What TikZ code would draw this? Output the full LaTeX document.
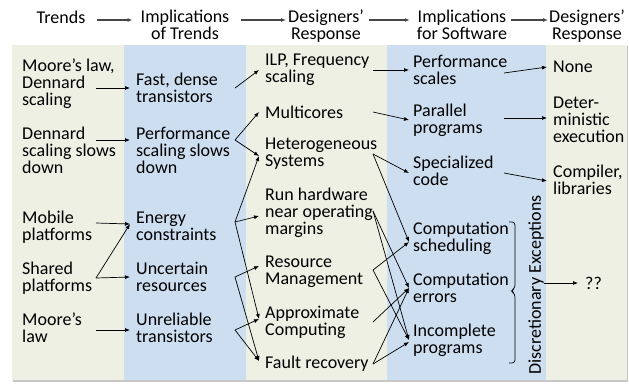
\documentclass[tikz,border=0pt]{standalone}
\usepackage{fontspec}
\setmainfont{Carlito}
\usetikzlibrary{arrows.meta,positioning,calc}
\definecolor{mlbeige}{RGB}{238,240,228}
\definecolor{mlblue}{RGB}{205,222,241}
\definecolor{mlhead}{RGB}{70,70,70}
\newcommand\fsz{\fontsize{18}{17}\selectfont}

\begin{document}
\begin{tikzpicture}[x=1pt,y=-1pt,>={Latex[length=5pt,width=4pt]},
  txt/.style={anchor=west,align=left,inner sep=0pt,font=\fsz},
  head/.style={align=center,inner sep=0pt,font=\fsz},
  arr/.style={->,line width=0.7pt},
  harr/.style={->,line width=1.1pt,draw=mlhead,fill=mlhead}]
  \useasboundingbox (0,0) rectangle (629,383);
  % panels
  \fill[black!22] (13,46) rectangle (628,382);
  \fill[mlbeige] (12,45) rectangle (627,380);
  \fill[mlblue] (124,45) rectangle (246,380);
  \fill[mlblue] (387,45) rectangle (546,380);

  % header
  \node[head] (h1) at (61,17) {Trends};
  \node[head] (h2) at (185,25) {Implications\\of Trends};
  \node[head] (h3) at (326,26) {Designers’\\Response};
  \node[head] (h4) at (462,25) {Implications\\for Software};
  \node[head] (h5) at (587,26) {Designers’\\Response};
  \coordinate (hy) at (0,20);
  \draw[harr] ([xshift=11pt]h1.east |- hy) -- ([xshift=-8pt]h2.west |- hy);
  \draw[harr] ([xshift=12pt]h2.east |- hy) -- ([xshift=-2pt]h3.west |- hy);
  \draw[harr] ([xshift=5pt]h3.east |- hy) -- ([xshift=-7pt]h4.west |- hy);
  \draw[harr] ([xshift=4pt]h4.east |- hy) -- ([xshift=-1pt]h5.west |- hy);

  % trends
  \node[txt] (t1) at (22,84) {Moore’s law,\\Dennard\\scaling};
  \node[txt] (t2) at (22,150) {Dennard\\scaling slows\\down};
  \node[txt] (t3) at (22,227) {Mobile\\platforms};
  \node[txt] (t4) at (22,278) {Shared\\platforms};
  \node[txt] (t5) at (22,328) {Moore’s\\law};
  % implications of trends
  \node[txt] (i1) at (136,88) {Fast, dense\\transistors};
  \node[txt] (i2) at (136,150) {Performance\\scaling slows\\down};
  \node[txt] (i3) at (136,226) {Energy\\constraints};
  \node[txt] (i4) at (136,277) {Uncertain\\resources};
  \node[txt] (i5) at (136,328) {Unreliable\\transistors};
  % designers' response
  \node[txt] (d1) at (265,70) {ILP, Frequency\\scaling};
  \node[txt] (d2) at (265,112) {Multicores};
  \node[txt] (d3) at (265,154) {Heterogeneous\\Systems};
  \node[txt] (d4) at (265,213) {Run hardware\\near operating\\margins};
  \node[txt] (d5) at (265,272) {Resource\\Management};
  \node[txt] (d6) at (265,322) {Approximate\\Computing};
  \node[txt] (d7) at (265,364) {Fault recovery};
  % implications for software
  \node[txt] (s1) at (413,70) {Performance\\scales};
  \node[txt] (s2) at (413,120) {Parallel\\programs};
  \node[txt] (s3) at (413,171) {Specialized\\code};
  \node[txt] (s4) at (413,238) {Computation\\scheduling};
  \node[txt] (s5) at (413,288) {Computation\\errors};
  \node[txt] (s6) at (413,340) {Incomplete\\programs};
  % designers' response (software)
  \node[txt] (r1) at (553,67) {None};
  \node[txt] (r2) at (553,120) {Deter-\\ministic\\execution};
  \node[txt] (r3) at (553,180) {Compiler,\\libraries};
  \node[txt] (qq) at (585,283) {??};
  \node[head,rotate=90] (exc) at (536,285) {Discretionary Exceptions};
  \draw[line width=0.7pt,rounded corners=3pt]
    (509,222) -| (515,288) -- (511,291) -- (515,294) |- (509,363);

  % column x positions for arrow ends
  \coordinate (o1) at (96,0);  \coordinate (n2) at (130,0);
  \coordinate (o2) at (235,0); \coordinate (n3) at (259,0);
  \coordinate (o3) at (373,0); \coordinate (n4) at (409,0);
  \coordinate (o4) at (504,0); \coordinate (n5) at (547,0);

  \draw[arr] ([yshift=-4pt]t1.west -| o1) -- (i1.west -| n2);
  \draw[arr] ([yshift=10pt]t2.west -| o1) -- ([yshift=10pt]i2.west -| n2);
  \draw[arr] ([yshift=4pt]t3.west -| o1) -- ([yshift=2pt]i3.west -| n2);
  \draw[arr] (t4.west -| o1) -- ([yshift=2pt]i3.west -| n2);
  \draw[arr] (t4.west -| o1) -- (i4.west -| n2);
  \draw[arr] ([yshift=-2pt]t5.west -| o1) -- ([yshift=-2pt]i5.west -| n2);

  \draw[arr] (i1.west -| o2) -- (d1.west -| n3);
  \draw[arr] ([yshift=10pt]i2.west -| o2) -- (d2.west -| n3);
  \draw[arr] ([yshift=10pt]i2.west -| o2) -- ([yshift=-2pt]d3.west -| n3);
  \draw[arr] ([yshift=4pt]i3.west -| o2) -- ([yshift=-2pt]d3.west -| n3);
  \draw[arr] ([yshift=4pt]i3.west -| o2) -- ([yshift=-3pt]d4.west -| n3);
  \draw[arr] ([yshift=4pt]i3.west -| o2) -- ([yshift=3pt]d6.west -| n3);
  \draw[arr] (i4.west -| o2) -- ([yshift=6pt]d5.west -| n3);
  \draw[arr] (i4.west -| o2) -- ([yshift=3pt]d7.west -| n3);
  \draw[arr] ([yshift=-2pt]i5.west -| o2) -- ([yshift=3pt]d6.west -| n3);
  \draw[arr] ([yshift=-2pt]i5.west -| o2) -- ([yshift=3pt]d7.west -| n3);

  \draw[arr] (d1.west -| o3) -- (s1.west -| n4);
  \draw[arr] (d2.west -| o3) -- (s2.west -| n4);
  \draw[arr] (d3.west -| o3) -- ([yshift=-2pt]s3.west -| n4);
  \draw[arr] (d3.west -| o3) -- ([yshift=-4pt]s4.west -| n4);
  \draw[arr] ([yshift=2pt]d4.west -| o3) -- (s5.west -| n4);
  \draw[arr] ([yshift=2pt]d4.west -| o3) -- (s6.west -| n4);
  \draw[arr] ([yshift=2pt]d5.west -| o3) -- ([yshift=-4pt]s4.west -| n4);
  \draw[arr] ([yshift=2pt]d5.west -| o3) -- (s6.west -| n4);
  \draw[arr] (d6.west -| o3) -- (s5.west -| n4);
  \draw[arr] (d7.west -| o3) -- (s5.west -| n4);
  \draw[arr] (d7.west -| o3) -- ([yshift=-2pt]s6.west -| n4);

  \draw[arr] ([yshift=-3pt]s1.west -| o4) -- (r1.west -| n5);
  \draw[arr] ([yshift=2pt]s2.west -| o4) -- ([yshift=2pt]r2.west -| n5);
  \draw[arr] ([yshift=-2pt]s3.west -| o4) -- ([yshift=-1pt]r3.west -| n5);
  \draw[arr] (exc.south |- qq.west) -- ([xshift=-7pt]qq.west);
\end{tikzpicture}
\end{document}
